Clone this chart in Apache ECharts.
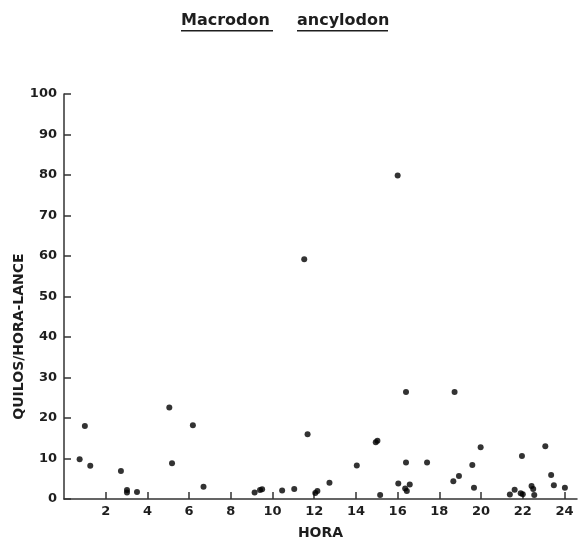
<!DOCTYPE html>
<html>
<head>
<meta charset="utf-8">
<script src="https://cdn.jsdelivr.net/npm/echarts@6/dist/echarts.min.js"></script>
<style>html,body{margin:0;padding:0;background:#fff}#c{width:580px;height:541px}</style>
</head>
<body>
<div id="c"></div>
<script>
var titleWords = ['Macrodon', 'ancylodon'];
var xName = 'HORA';
var yName = 'QUILOS/HORA-LANCE';
var xTicks = [2, 4, 6, 8, 10, 12, 14, 16, 18, 20, 22, 24];
var hora = [0.75, 1.0, 1.26, 2.73, 3.02, 3.02, 3.5, 5.05, 5.18, 6.18, 6.69, 9.14, 9.4, 9.5, 10.46, 11.04,
  11.52, 11.68, 12.05, 12.15, 12.73, 14.04, 14.95, 15.03, 15.16, 16.0, 16.03, 16.36, 16.44, 16.40, 16.40,
  16.58, 17.41, 18.67, 18.73, 18.94, 19.58, 19.66, 19.98, 21.38, 21.61, 21.9, 22.0, 21.96, 22.42, 22.5,
  22.55, 23.08, 23.36, 23.49, 24.02];
var quilos = [9.8, 18.0, 8.2, 6.9, 2.2, 1.6, 1.7, 22.6, 8.8, 18.2, 3.0, 1.6, 2.2, 2.4, 2.1, 2.5,
  59.2, 16.0, 1.5, 2.0, 4.0, 8.3, 14.0, 14.4, 1.0, 79.9, 3.8, 2.6, 2.0, 9.0, 26.4,
  3.6, 9.0, 4.4, 26.4, 5.7, 8.4, 2.8, 12.8, 1.1, 2.3, 1.4, 1.2, 10.6, 3.2, 2.5,
  1.0, 13.0, 5.9, 3.4, 2.8];

var pts = hora.map(function (h, i) { return [h, quilos[i]]; });
var ink = '#1e1e1e';
var fam = 'DejaVu Sans';
var chart = echarts.init(document.getElementById('c'), null, {renderer: 'canvas'});
chart.setOption({
  animation: false,
  backgroundColor: '#fff',
  grid: {left: 64, right: 3, top: 94, bottom: 42, containLabel: false, outerBoundsMode: 'none'},
  graphic: [
    {type: 'text', x: 181, y: 21, style: {text: titleWords[0], font: 'bold 16px "DejaVu Sans"', fill: ink, verticalAlign: 'middle'}},
    {type: 'text', x: 297, y: 21, style: {text: titleWords[1], font: 'bold 16px "DejaVu Sans"', fill: ink, verticalAlign: 'middle'}},
    {type: 'rect', shape: {x: 181, y: 30, width: 92, height: 1.5}, style: {fill: ink}},
    {type: 'rect', shape: {x: 297, y: 30, width: 91, height: 1.5}, style: {fill: ink}}
  ],
  xAxis: {
    type: 'value', min: 0, max: 24.6, interval: 2,
    name: xName, nameLocation: 'middle', nameGap: 27,
    nameTextStyle: {fontFamily: fam, fontWeight: 'bold', fontSize: 14, color: ink},
    axisLine: {lineStyle: {color: '#333', width: 1.5}},
    axisTick: {inside: true, length: 7, lineStyle: {color: '#333', width: 1.5}, customValues: xTicks},
    axisLabel: {margin: 6, fontFamily: fam, fontWeight: 'bold', fontSize: 13, color: ink, customValues: xTicks},
    splitLine: {show: false}
  },
  yAxis: {
    type: 'value', min: 0, max: 100, interval: 10,
    name: yName, nameLocation: 'middle', nameRotate: 90, nameGap: 38, nameMoveOverlap: false,
    nameTextStyle: {fontFamily: fam, fontWeight: 'bold', fontSize: 14, color: ink, padding: [0, 80, 0, 0]},
    axisLine: {lineStyle: {color: '#333', width: 1.5}},
    axisTick: {inside: true, length: 7, lineStyle: {color: '#333', width: 1.5}},
    axisLabel: {margin: 7, fontFamily: fam, fontWeight: 'bold', fontSize: 13, color: ink},
    splitLine: {show: false}
  },
  series: [{
    type: 'scatter',
    data: pts,
    symbol: 'circle',
    symbolSize: 6,
    itemStyle: {color: '#000'}
  }]
});
</script>
</body>
</html>
